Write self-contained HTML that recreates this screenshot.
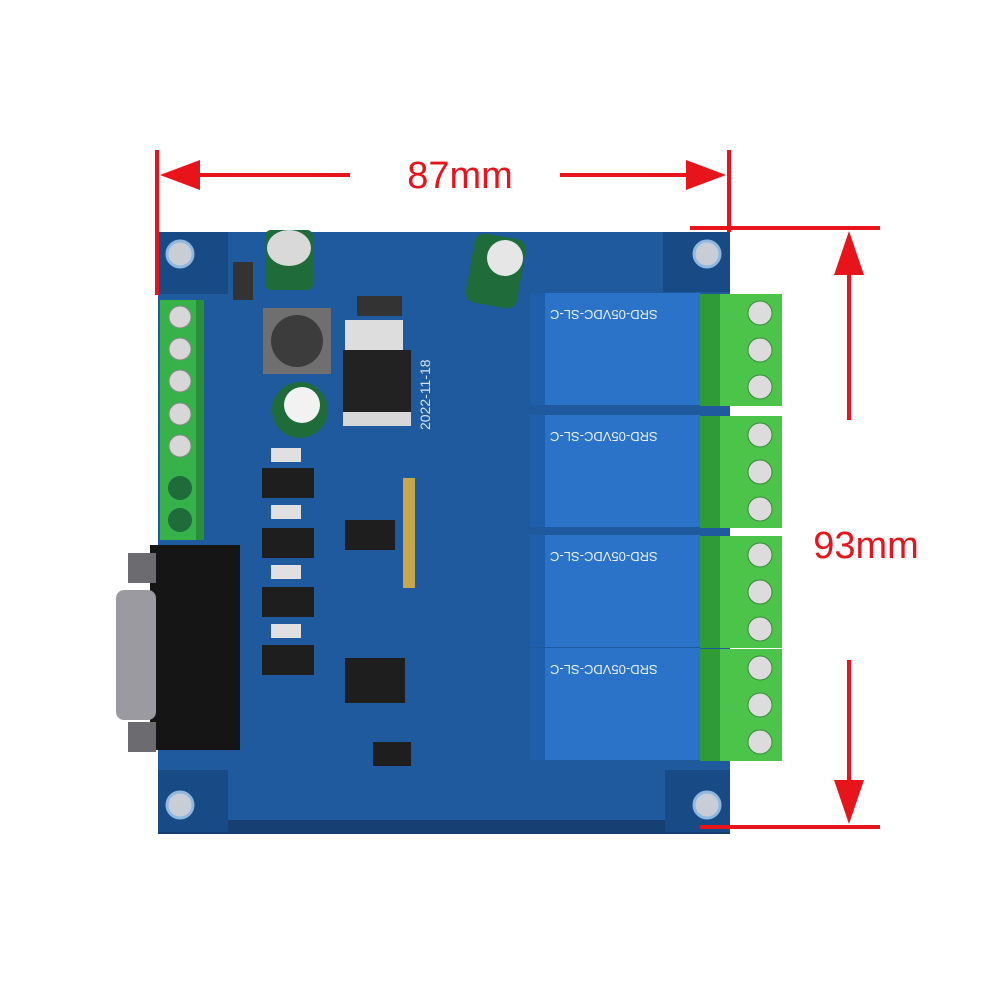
<!DOCTYPE html><html><head><style>body{margin:0;background:#fff}svg{display:block}</style></head><body>
<svg width="1000" height="1000" viewBox="0 0 1000 1000" xmlns="http://www.w3.org/2000/svg" font-family="Liberation Sans, sans-serif">
<rect width="1000" height="1000" fill="#fff"/>
<!-- board -->
<rect x="158" y="232" width="572" height="600" fill="#1f5a9e"/>
<rect x="158" y="820" width="572" height="14" fill="#163f73"/>
<rect x="158" y="232" width="70" height="62" fill="#184a85"/>
<rect x="663" y="232" width="67" height="60" fill="#184a85"/>
<rect x="158" y="770" width="70" height="62" fill="#184a85"/>
<rect x="665" y="770" width="65" height="62" fill="#184a85"/>
<g fill="#c9ced6" stroke="#8fb7e0" stroke-width="3"><circle cx="180" cy="254" r="13"/><circle cx="707" cy="254" r="13"/><circle cx="180" cy="805" r="13"/><circle cx="707" cy="805" r="13"/></g>
<!-- caps -->
<rect x="265" y="230" width="48" height="60" rx="6" fill="#1f6b3a"/><ellipse cx="289" cy="248" rx="22" ry="18" fill="#d9d9d9"/>
<rect x="470" y="236" width="52" height="70" rx="10" fill="#1f6b3a" transform="rotate(10 496 270)"/><ellipse cx="505" cy="258" rx="18" ry="18" fill="#e6e6e6"/>
<circle cx="300" cy="410" r="28" fill="#1f6b3a"/><circle cx="302" cy="405" r="18" fill="#f2f2f2"/>
<!-- inductor -->
<rect x="263" y="308" width="68" height="66" fill="#6f6f6f"/><circle cx="297" cy="341" r="26" fill="#3c3c3c"/>
<!-- regulator -->
<rect x="343" y="350" width="68" height="75" fill="#222"/><rect x="345" y="320" width="58" height="30" fill="#ddd"/><rect x="343" y="412" width="68" height="14" fill="#d8d8d8"/>
<rect x="233" y="262" width="20" height="38" fill="#333"/><rect x="357" y="296" width="45" height="20" fill="#333"/>
<text x="430" y="430" fill="#d8e4f4" font-size="14" transform="rotate(-90 430 430)">2022-11-18</text>
<!-- left terminal -->
<rect x="160" y="300" width="42" height="240" fill="#37b24a"/><rect x="196" y="300" width="8" height="240" fill="#2a8f3a"/>
<g fill="#d7d7d7" stroke="#888"><circle cx="180" cy="317" r="11"/><circle cx="180" cy="349" r="11"/><circle cx="180" cy="381" r="11"/><circle cx="180" cy="414" r="11"/><circle cx="180" cy="446" r="11"/></g>
<g fill="#1f6b3a"><circle cx="180" cy="488" r="12"/><circle cx="180" cy="520" r="12"/></g>
<!-- ICs left column -->
<g fill="#1e1e1e"><rect x="262" y="468" width="52" height="30"/><rect x="262" y="528" width="52" height="30"/><rect x="262" y="587" width="52" height="30"/><rect x="262" y="645" width="52" height="30"/><rect x="345" y="520" width="50" height="30"/><rect x="345" y="658" width="60" height="45"/><rect x="373" y="742" width="38" height="24"/></g>
<g fill="#e0e0e0"><rect x="271" y="448" width="30" height="14"/><rect x="271" y="505" width="30" height="14"/><rect x="271" y="565" width="30" height="14"/><rect x="271" y="624" width="30" height="14"/></g>
<rect x="403" y="478" width="12" height="110" fill="#caa64a"/>
<!-- DB9 -->
<rect x="150" y="545" width="90" height="205" fill="#151515"/>
<rect x="116" y="590" width="40" height="130" rx="8" fill="#9a9aa0"/>
<rect x="128" y="553" width="28" height="30" fill="#6c6c70"/><rect x="128" y="722" width="28" height="30" fill="#6c6c70"/>
<!-- relays & terminals -->
<g id="r">
<rect x="530" y="293" width="170" height="112" fill="#2a73c9"/><rect x="530" y="293" width="15" height="112" fill="#1e5eaa"/>
<text x="690" y="318" fill="#e8f0ff" font-size="13" text-anchor="end" transform="rotate(180 620 314)">SRD-05VDC-SL-C</text>
<rect x="700" y="294" width="82" height="112" fill="#4cc449"/><rect x="700" y="294" width="20" height="112" fill="#2f9b36"/>
<g fill="#dcdcdc" stroke="#3a8a3a"><circle cx="760" cy="313" r="12"/><circle cx="760" cy="350" r="12"/><circle cx="760" cy="387" r="12"/></g>
</g>
<use href="#r" y="122"/><use href="#r" y="242"/><use href="#r" y="355"/>
<!-- dimensions -->
<g stroke="#e8141c" stroke-width="4" fill="#e8141c">
<line x1="157" y1="150" x2="157" y2="295"/><line x1="729" y1="150" x2="729" y2="232"/>
<line x1="195" y1="175" x2="350" y2="175"/><line x1="560" y1="175" x2="690" y2="175"/>
<polygon points="160,175 200,160 200,190" stroke="none"/><polygon points="726,175 686,160 686,190" stroke="none"/>
<line x1="690" y1="228" x2="880" y2="228"/><line x1="700" y1="827" x2="880" y2="827"/>
<line x1="849" y1="265" x2="849" y2="420"/><line x1="849" y1="660" x2="849" y2="790"/>
<polygon points="849,231 834,275 864,275" stroke="none"/><polygon points="849,824 834,780 864,780" stroke="none"/>
</g>
<text x="460" y="188" fill="#e8141c" font-size="38" text-anchor="middle">87mm</text>
<text x="866" y="558" fill="#e8141c" font-size="38" text-anchor="middle">93mm</text>
</svg></body></html>
